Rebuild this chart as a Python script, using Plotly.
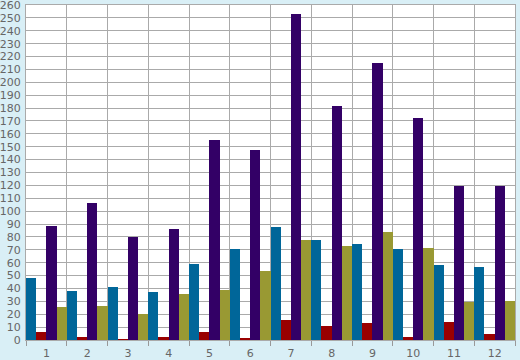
import plotly.graph_objects as go

categories = [str(i) for i in range(1, 13)]
blue_vals = [48, 38, 41, 37, 59, 70.5, 88, 78, 74.5, 70.5, 58, 56.5]
red_vals = [6, 2, 0.5, 2, 6, 1.5, 15.5, 11, 13, 2.5, 14, 4.5]
purple_vals = [88.5, 106, 80, 86, 155, 147.5, 253, 182, 215, 172, 119.5, 119.5]
olive_vals = [25.5, 26.5, 20, 35.5, 39, 53.5, 77.5, 73, 84, 71.5, 29.5, 30]
y_ticks = list(range(0, 261, 10))

series = [
    ("Blue", blue_vals, "#006699"),
    ("Red", red_vals, "#990000"),
    ("Purple", purple_vals, "#330066"),
    ("Olive", olive_vals, "#999933"),
]

fig = go.Figure()
for name, vals, col in series:
    fig.add_trace(go.Bar(x=categories, y=vals, name=name,
                         marker=dict(color=col, line=dict(width=0))))

font = dict(family="DejaVu Sans", size=11, color="#666666")
fig.update_layout(
    width=520, height=360,
    margin=dict(l=26, r=5, t=5, b=20),
    paper_bgcolor="#d9eff6",
    plot_bgcolor="#ffffff",
    barmode="group", bargap=0, bargroupgap=0,
    showlegend=False,
    font=font,
    xaxis=dict(type="category", tickson="boundaries", ticks="outside",
               ticklen=5, tickcolor="#999999", showgrid=True,
               gridcolor="#aaaaaa", gridwidth=1, showline=True,
               linecolor="#aaaaaa", mirror=True, tickfont=font,
               range=[-0.5, 11.5], automargin=False, ticklabelstandoff=3),
    yaxis=dict(range=[0, 260], tickvals=y_ticks, ticks="", showgrid=True,
               gridcolor="#aaaaaa", gridwidth=1, showline=True,
               linecolor="#aaaaaa", mirror=True, zeroline=False,
               tickfont=font, ticklabelstandoff=2, automargin=False,
               ticklabeloverflow="allow"),
)
fig.write_html("out.html")
